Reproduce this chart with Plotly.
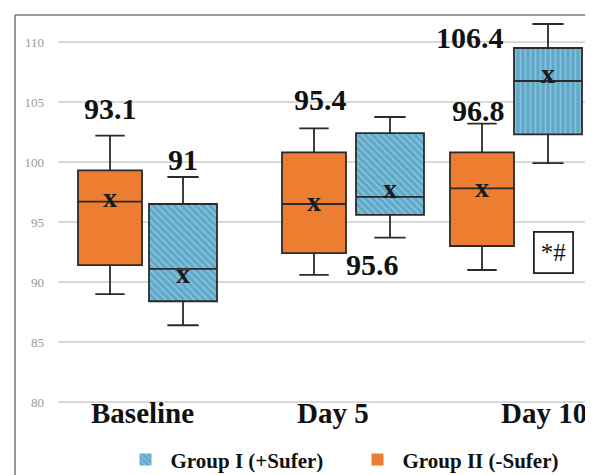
import plotly.graph_objects as go

# ---- data ----
categories = ["Baseline", "Day 5", "Day 10"]

g2_name = "Group II (-Sufer)"
g2_q1 = [91.4, 92.4, 93.0]
g2_median = [96.7, 96.5, 97.8]
g2_q3 = [99.3, 100.8, 100.8]
g2_lower = [89.0, 90.6, 91.0]
g2_upper = [102.2, 102.8, 103.2]
g2_mean = [96.8, 96.5, 97.7]
g2_label = ["93.1", "95.4", "96.8"]

g1_name = "Group I (+Sufer)"
g1_q1 = [88.4, 95.6, 102.3]
g1_median = [91.1, 97.1, 106.75]
g1_q3 = [96.5, 102.4, 109.5]
g1_lower = [86.4, 93.7, 99.9]
g1_upper = [98.75, 103.75, 111.5]
g1_mean = [90.5, 97.6, 107.2]
g1_label = ["91", "95.6", "106.4"]

sig_label = "*#"
y_ticks = [80, 85, 90, 95, 100, 105, 110]

# ---- layout helpers (positions / styles) ----
g2_x = [52, 256, 424]
g1_x = [125, 332, 490]
cat_x = [84, 275, 486]
g2_lab_pos = [(52, 104.5), (262, 105.2), (420, 104.3)]
g1_lab_pos = [(125, 100.2), (314, 91.5), (412, 110.4)]

ORANGE = "#ED7D31"
BLUE = "#5FA8C8"
LIGHT = "#B4DDEE"
LINE = "#2a2a2a"
SERIF = "Liberation Serif"

fig = go.Figure()

# hatched blue fills (bars) -- also used as legend entries
fig.add_trace(go.Bar(
    x=g1_x, base=g1_q1, y=[b - a for a, b in zip(g1_q1, g1_q3)],
    width=68, name=g1_name,
    marker=dict(color=BLUE, line=dict(width=0),
                pattern=dict(shape=["\\", "\\", "|"], fgcolor=LIGHT, bgcolor=BLUE,
                             size=5, solidity=0.35)),
    hoverinfo="skip",
))
fig.add_trace(go.Bar(
    x=g2_x, base=g2_q1, y=[b - a for a, b in zip(g2_q1, g2_q3)],
    width=64, name=g2_name,
    marker=dict(color=ORANGE, line=dict(width=0)),
    hoverinfo="skip",
))

# box outlines, medians, whiskers
for xs, q1, med, q3, lo, up, w in [
    (g2_x, g2_q1, g2_median, g2_q3, g2_lower, g2_upper, 64),
    (g1_x, g1_q1, g1_median, g1_q3, g1_lower, g1_upper, 68),
]:
    fig.add_trace(go.Box(
        x=xs, q1=q1, median=med, q3=q3, lowerfence=lo, upperfence=up,
        width=w, whiskerwidth=0.46, boxpoints=False,
        fillcolor="rgba(0,0,0,0)", line=dict(color=LINE, width=1.8),
        showlegend=False, hoverinfo="skip",
    ))

# mean markers "x"
for xs, mean in [(g2_x, g2_mean), (g1_x, g1_mean)]:
    fig.add_trace(go.Scatter(
        x=xs, y=mean, mode="text", text=["x"] * len(xs),
        textposition="middle center",
        textfont=dict(family=SERIF, size=28, color="#1a1a1a", weight="bold"),
        showlegend=False, hoverinfo="skip",
    ))

annotations = []
for (px, py), t in list(zip(g2_lab_pos, g2_label)) + list(zip(g1_lab_pos, g1_label)):
    annotations.append(dict(x=px, y=py, text=t, showarrow=False,
                            font=dict(family=SERIF, size=30, color="#111", weight="bold")))
for cx, c in zip(cat_x, categories):
    annotations.append(dict(x=cx, y=79.1, text=c, showarrow=False,
                            font=dict(family=SERIF, size=29, color="#111", weight="bold")))
annotations.append(dict(x=495, y=92.5, text=sig_label, showarrow=False,
                        font=dict(family=SERIF, size=25, color="#111"),
                        bordercolor="#222", borderwidth=1.8, borderpad=6,
                        bgcolor="white"))

# page body has an 8px margin: size the figure so it fits the 593x475 window
fig.update_layout(
    width=585, height=467,
    margin=dict(l=50, r=3, t=7, b=45, autoexpand=False),
    paper_bgcolor="white", plot_bgcolor="white",
    barmode="overlay", boxmode="overlay",
    xaxis=dict(range=[0, 532], showgrid=False, zeroline=False,
               showticklabels=False, ticks=""),
    yaxis=dict(range=[77.67, 112.25], tickvals=y_ticks, showgrid=True,
               gridcolor="#d9d9d9", gridwidth=2, zeroline=False, ticks="",
               ticklabelstandoff=13,
               tickfont=dict(family=SERIF, size=13, color="#9a9a9a")),
    showlegend=True,
    legend=dict(orientation="h", x=0.1175, xanchor="left", y=-0.072, yanchor="middle",
                font=dict(family=SERIF, size=21, color="#111", weight="bold"),
                itemwidth=40, entrywidth=177, bgcolor="rgba(0,0,0,0)"),
    annotations=annotations,
    shapes=[
        dict(type="line", xref="paper", yref="paper", x0=-0.0808, x1=-0.0808,
             y0=1.0, y1=-0.2, line=dict(color="#777", width=1.5)),
        dict(type="line", xref="paper", yref="paper", x0=-0.0808, x1=1.01,
             y0=1.0, y1=1.0, line=dict(color="#777", width=1.5)),
    ],
)

fig.write_html("out.html")
